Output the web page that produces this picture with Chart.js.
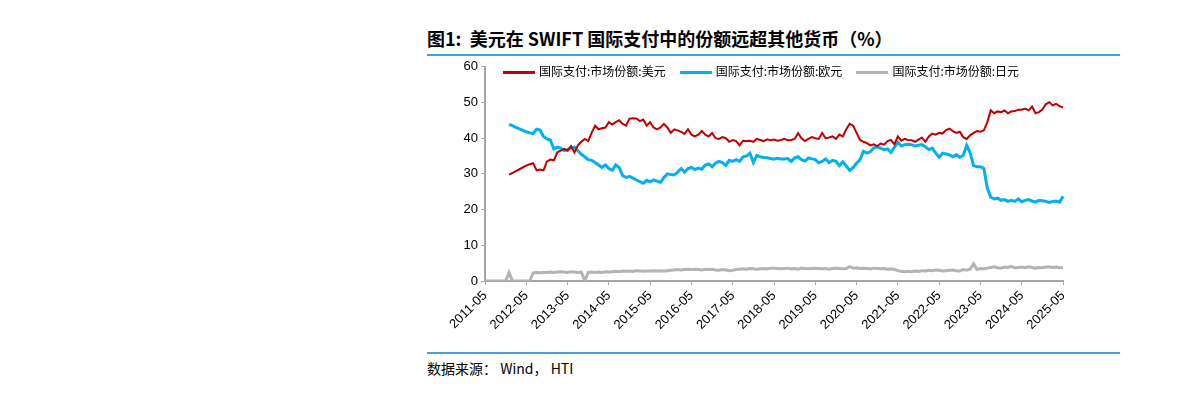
<!DOCTYPE html>
<html><head><meta charset="utf-8">
<script src="https://cdn.jsdelivr.net/npm/chart.js@4"></script>
<style>
body{margin:0;width:1191px;height:414px;background:#fff;font-family:"Liberation Sans","Noto Sans CJK SC",sans-serif;position:relative;overflow:hidden}
#title{position:absolute;left:427px;top:25px;font-size:18px;font-weight:bold;font-family:"Noto Sans CJK SC",sans-serif;color:#000}
.rule{position:absolute;left:427px;width:693px;height:2px;background:#4a9fd8}
#box{position:absolute;left:427px;top:56px;width:693px;height:290px}
#legend{position:absolute;left:503px;top:62px;font-size:12px;font-family:"Noto Sans CJK SC",sans-serif;color:#000;display:flex;gap:14px;white-space:nowrap}
#legend span i{display:inline-block;width:32px;height:3px;vertical-align:middle;margin-right:4px}
#src{position:absolute;left:427px;top:358px;font-size:14px;font-family:"Noto Sans CJK SC",sans-serif}
</style></head><body>
<div id="title">图1:&nbsp; 美元在 SWIFT 国际支付中的份额远超其他货币（%）</div>
<div class="rule" style="top:54px"></div>
<div id="box"><canvas id="c"></canvas></div>
<div id="legend"></div>
<div class="rule" style="top:352px"></div>
<div id="src">数据来源：&nbsp;Wind，&nbsp;HTI</div>
<script>
// monthly, 2011-05 .. 2025-05
const months = [];
for (let y = 2011, m = 5; y < 2025 || (y === 2025 && m <= 5); m++) {
  if (m > 12) { m = 1; y++; }
  if (y === 2025 && m > 5) break;
  months.push(y + '-' + String(m).padStart(2, '0'));
}

const usd = [null,null,null,null,null,null,null,29.8,30.3,30.8,31.3,31.8,
  32.3,32.7,33,31,31.2,31,33.5,34,33.8,36,36.5,37,
  36.5,37.8,36,38,39,39.8,39.2,41.5,43.5,42.5,42.8,43,
  44.5,43.8,44.5,45,44,43.5,45.5,45.6,45.5,44.8,45.2,43.5,
  44.5,43,42.5,43,44,43,41.5,42.5,42.2,41.8,41.2,42.5,
  41,40.5,41,42,41,40.5,41.5,40,39.8,40.3,40,39,
  39.5,39.2,38,39.3,39.2,39.3,39,39.8,39.5,39.2,39.7,39.4,
  39.6,39.3,39.5,39.8,39.4,39.5,39.8,41.4,40,39.2,39.8,40.3,
  40,39.8,41.5,40,40.2,40.5,39.8,41,40.5,42.5,44,43.5,
  41.5,39.5,39,38.6,38,38.3,37.8,38.5,38.2,39.2,39.5,38.3,
  40.5,39.3,39.8,39.5,39.4,39,39.6,40.2,39,40.5,41.3,41,
  41.5,41.3,42.3,42.7,42,41.5,41.8,40.3,39.8,40.8,41.5,42,
  41.8,42.2,44.5,47.8,47,47.5,47.3,47.8,47,47.5,47.6,48,
  48,48.3,47.8,48.9,47,47.3,48,49.5,50.1,49.2,49.6,49,
  48.6];

const eur = [null,null,null,null,null,null,null,43.9,43.5,43,42.6,42.2,
  41.8,41.5,41.3,42.5,42.3,40.5,39.8,39.5,37,37.5,37.2,36.5,
  36.8,37.3,37.5,36.5,35.5,34.8,34,33.8,33.2,32.5,31.8,32.5,
  31.5,31,32.5,31.8,29.5,29,29.3,28.8,28.3,27.8,27.4,28.2,
  27.8,28.3,28,27.6,29,30,29.8,29.7,30.5,31.5,30.5,31.5,
  31.8,31.2,31.6,31.3,32.5,32.8,32,33,33.5,33.2,32.4,33.8,
  33.5,34,33.5,34.8,35,35.8,33.2,35.2,34.8,34.6,34.5,34.3,
  34.1,34.4,34.2,34.2,34.3,33.5,34.5,34.8,34,33.6,34.5,34.2,
  34,33.1,33.5,34.2,33.2,33.8,33.5,32.3,33.4,32.2,31,31.8,
  33,34,36.3,35.8,36.2,37.3,37.5,37.2,36.8,37,36,37.5,
  38.9,37.8,38.2,38.3,38.2,37.8,38,38.2,37.6,36.8,37.2,35.8,
  34.7,35.8,35.6,35.3,34.8,35.4,34.6,35.2,38,36,32.3,32,
  32,31.5,26,23.5,23,23.2,22.6,22.8,22.3,22.6,22.3,23,
  22.2,22.6,22.8,22.4,22.1,22.6,22.5,22.3,22,22.3,22.4,22.1,
  23.7];

const jpy = [0,0,0,0,0,0,0,2.4,0,0,0,0,
  0,0,2.3,2.4,2.3,2.4,2.4,2.5,2.4,2.5,2.6,2.5,
  2.4,2.6,2.5,2.4,2.5,0.1,2.4,2.5,2.4,2.5,2.4,2.6,
  2.5,2.6,2.7,2.6,2.8,2.7,2.8,2.7,2.9,2.8,2.7,2.8,
  2.8,2.9,2.8,2.9,2.8,2.9,3.0,3.1,3.2,3.1,3.2,3.3,
  3.2,3.3,3.2,3.1,3.3,3.2,3.3,3.1,3.0,3.2,3.1,2.9,
  3.0,3.2,3.3,3.4,3.3,3.5,3.4,3.3,3.4,3.5,3.4,3.6,
  3.6,3.5,3.4,3.5,3.6,3.4,3.5,3.3,3.6,3.5,3.4,3.5,
  3.6,3.5,3.4,3.5,3.3,3.5,3.6,3.5,3.4,3.5,4.0,3.6,
  3.7,3.5,3.6,3.5,3.4,3.6,3.5,3.4,3.5,3.3,3.4,3.2,
  2.9,2.7,2.6,2.7,2.6,2.8,2.7,2.9,2.8,3.0,2.9,3.1,
  3.0,2.8,2.9,3.0,3.1,2.9,2.8,3.2,3.0,3.3,4.8,3.2,
  3.5,3.4,3.6,3.8,4.0,3.7,3.6,3.9,3.8,4.1,3.7,3.8,
  3.9,3.7,4.0,3.8,3.6,3.8,3.7,3.9,4.0,3.8,3.9,3.7,
  3.8];

const seriesNames = ['国际支付:市场份额:美元', '国际支付:市场份额:欧元', '国际支付:市场份额:日元'];
const seriesColors = ['#c00000', '#00b0f0', '#b4b4b4'];
const seriesWidths = [2, 3, 3];
const yTicks = [0, 10, 20, 30, 40, 50, 60];

// html legend
document.getElementById('legend').innerHTML = seriesNames.map((n, i) =>
  `<span><i style="background:${seriesColors[i]}"></i>${n}</span>`).join('');

const axisColor = '#a6a6a6';
new Chart(document.getElementById('c'), {
  type: 'line',
  data: {
    labels: months,
    datasets: [usd, eur, jpy].map((d, i) => ({
      label: seriesNames[i],
      data: d,
      borderColor: seriesColors[i],
      borderWidth: seriesWidths[i],
      pointRadius: 0,
      tension: 0,
      fill: false
    }))
  },
  options: {
    responsive: true,
    maintainAspectRatio: false,
    animation: false,
    layout: { padding: { top: 10, right: 57 } },
    plugins: { legend: { display: false }, tooltip: { enabled: false } },
    scales: {
      x: {
        afterFit: s => { s.height = 65; },
        border: { color: axisColor, width: 2 },
        grid: { drawOnChartArea: false, color: axisColor, tickLength: 4 },
        ticks: {
          autoSkip: false,
          maxRotation: 45, minRotation: 45,
          color: '#000',
          font: { size: 13, family: "'Liberation Sans', sans-serif" },
          callback: function (v, i) { return i % 12 === 0 ? months[i] : null; }
        }
      },
      y: {
        min: 0, max: 60,
        afterFit: s => { s.width = 58; },
        afterBuildTicks: s => { s.ticks = yTicks.map(v => ({ value: v })); },
        border: { color: axisColor, width: 2 },
        grid: { drawOnChartArea: false, color: axisColor, tickLength: 4 },
        ticks: { color: '#000', font: { size: 13, family: "'Liberation Sans', sans-serif" } }
      }
    }
  }
});
</script>
</body></html>
